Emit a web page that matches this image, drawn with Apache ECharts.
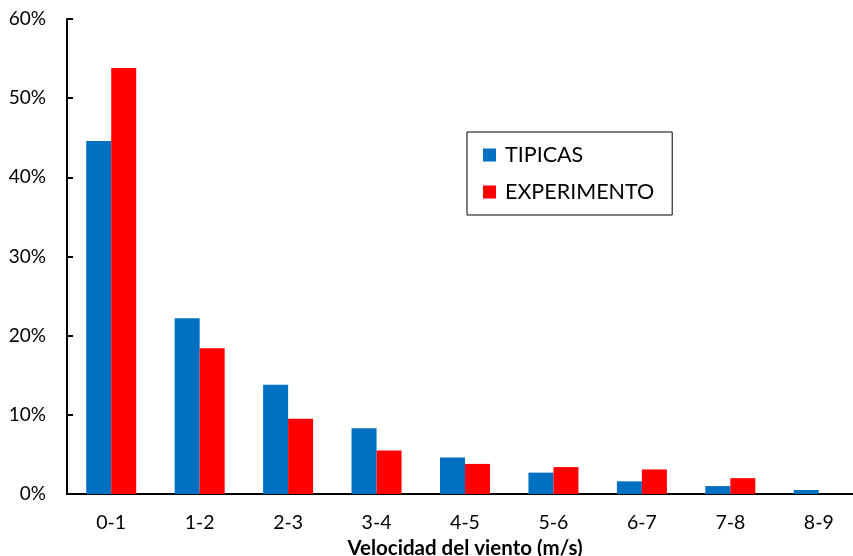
<!DOCTYPE html>
<html><head><meta charset="utf-8">
<script src="https://cdn.jsdelivr.net/npm/echarts@6/dist/echarts.min.js"></script>
<style>html,body{margin:0;padding:0;background:#fff}#c{width:853px;height:556px}</style>
</head><body><div id="c"></div>
<script>
const categories = ['0-1','1-2','2-3','3-4','4-5','5-6','6-7','7-8','8-9'];
const tipicas = [44.6, 22.2, 13.8, 8.3, 4.6, 2.7, 1.6, 1.0, 0.5];
const experimento = [53.8, 18.4, 9.5, 5.5, 3.8, 3.4, 3.1, 2.0, null];
const yTicks = [0, 10, 20, 30, 40, 50, 60];
const FONT = 'Lato, "Open Sans", sans-serif';

const chart = echarts.init(document.getElementById('c'));
chart.setOption({
  animation: false,
  textStyle: { fontFamily: FONT },
  grid: { left: 67, top: 19, width: 796, height: 475, containLabel: false, outerBoundsMode: 'none' },
  legend: {
    left: 467, top: 132, orient: 'vertical',
    borderColor: '#000', borderWidth: 1,
    padding: [12, 18, 12, 16], itemGap: 15,
    itemWidth: 13, itemHeight: 13, icon: 'rect',
    textStyle: { fontSize: 21.5, color: '#000', fontFamily: FONT, padding: [0, 0, 0, 4] }
  },
  xAxis: {
    type: 'category', data: categories,
    name: 'Velocidad del viento (m/s)', nameLocation: 'middle', nameGap: 41,
    nameTextStyle: { fontWeight: 'bold', fontSize: 20.5, color: '#000', fontFamily: FONT },
    axisLine: { lineStyle: { color: '#000', width: 2 } },
    axisTick: { inside: true, length: 6, lineStyle: { color: '#000', width: 2 } },
    axisLabel: { fontSize: 19.5, color: '#000', margin: 19 }
  },
  yAxis: {
    type: 'value', min: yTicks[0], max: yTicks[yTicks.length - 1], interval: 10,
    axisLine: { show: true, lineStyle: { color: '#000', width: 2 } },
    axisTick: { show: true, inside: true, length: 6, lineStyle: { color: '#000', width: 2 } },
    splitLine: { show: false },
    axisLabel: { formatter: '{value}%', fontSize: 19, color: '#000', margin: 21 }
  },
  series: [
    { name: 'TIPICAS', type: 'bar', data: tipicas, barWidth: 25, barGap: '0%',
      itemStyle: { color: '#0070C0' } },
    { name: 'EXPERIMENTO', type: 'bar', data: experimento, barWidth: 25, barGap: '0%',
      itemStyle: { color: '#FF0000' } }
  ]
});
</script></body></html>
